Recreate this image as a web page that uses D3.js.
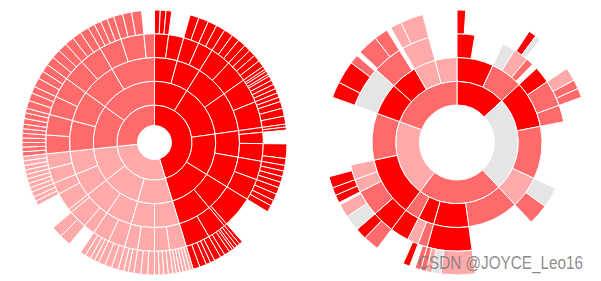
<!DOCTYPE html>
<html>
<head>
<meta charset="utf-8">
<script src="https://cdn.jsdelivr.net/npm/d3@7"></script>
<style>
  html, body { margin: 0; padding: 0; background: #fff; }
  svg { display: block; }
</style>
</head>
<body>
<svg id="chart" width="601" height="281"></svg>
<script>
// ---------- DATA ----------
// Colour keys
const palette = { R: "#ff0000", M: "#ff6b6b", L: "#ffaaaa", G: "#e5e5e5" };

// LEFT sunburst: nested arrays, numbers are leaf sizes (degrees); arrays are groups.
// Colour inherited from the top level group.
const leftGroups = ["R", "L", "M"];
const leftRed = [
  [ [ [2.5, 2.5, 2.5], 8.1 ], [ [4, 4.4], [4, 4] ] ],
  [ [ [4, 3.5, 3.5], [3, 3, 3, 3] ],
    [ [1.5, 1, 1.5, 1, 2, 2, 2, 2], [2, 2, 3, 3.5, 3.5] ] ],
  [ [ [1.3, 1.3], 6, [6.4, 3] ], [ [2.5, 2.5, 2.5, 2.5], [3, 3, 2.5, 3] ] ],
  [ [ 17, [1.5] ], [ [1.5, 1.5, 1, 1.5, 2.5, 2], [3, 2, 2, 3, 3] ] ]
];
const leftLight = [
  [ [ [1.5, 1.5, 1.5, 1.5, 1.5, 1.5], [2, 2, 2, 2] ], [ [3, 3, 3], [2.5, 2, 2.5] ] ],
  [ [ [3, 3, 3], [2, 2, 2.5, 2.5] ], [ 6, [5, 5], 2 ] ],
  [ [ 9.7, [2, 2, 2.3] ], [ [2, 2, 2, 2], [2, 2, 2, 2] ] ]
];
const leftMedium = [
  [ [ [2, 2, 2, 2, 2], [2, 2, 2.5, 2.5, 2] ], [ [3.5, 3.5, 3], [4, 3.5, 3.5] ] ],
  [ [ [4, 4, 4], [4, 4, 4] ], [ [3, 3, 3, 3], [4, 4, 4.4], 5.6 ] ]
];

// RIGHT sunburst: [colourKey, span (degrees), children?]; null colour = empty space.
const rightTop = [
  ["R", 47, [
    ["R", 25, [ ["R", 9.5, [ ["R", 3.8] ]] ]],
    ["M", 22, [ ["G", 7], ["L", 8, [ [null, 1], ["R", 3.5], ["G", 2.5] ]], ["M", 4] ]]
  ]],
  ["G", 90, [
    ["R", 32, [ ["R", 9], ["M", 14, [ ["L", 6], ["M", 4], ["M", 4] ]], ["M", 9] ]],
    ["M", 36],
    ["L", 22, [ ["G", 11], ["M", 11] ]]
  ]],
  ["M", 80, [
    ["M", 35],
    ["R", 24, [ ["R", 24, [ ["L", 15], ["G", 4], ["L", 2.5], ["M", 2.5] ]] ]],
    ["R", 11, [ ["M", 5, [ ["M", 2.5] ]], ["L", 6, [ ["R", 3] ]] ]],
    ["M", 10, [ ["R", 10] ]]
  ]],
  ["L", 73, [
    ["R", 41, [
      ["R", 12, [ ["M", 7], ["R", 5] ]],
      ["M", 14, [ ["G", 7], ["L", 6] ]],
      ["L", 7, [ ["R", 3.5], ["R", 3.5] ]],
      ["L", 8, [ ["R", 5] ]]
    ]],
    ["M", 32]
  ]],
  ["M", 70, [
    ["R", 22, [ ["G", 22, [ ["R", 7], ["R", 10], ["M", 4] ]] ]],
    ["R", 18, [ ["M", 16, [ [null, 1], ["M", 9], ["M", 6] ]] ]],
    ["L", 15, [ ["L", 15, [ ["L", 5], ["L", 10] ]] ]],
    ["L", 15]
  ]]
];

const watermark = "CSDN @JOYCE_Leo16";

// ---------- BUILD ----------
const svg = d3.select("#chart");
svg.append("rect").attr("width", 601).attr("height", 281).attr("fill", "#fff");

function leftNode(n) {
  return Array.isArray(n) ? { children: n.map(leftNode) } : { value: n };
}
const leftRootData = {
  children: [leftRed, leftLight, leftMedium].map((g, i) => ({ c: leftGroups[i], children: g.map(leftNode) }))
};

function rightNode([c, v, kids]) {
  if (!kids) return { c, value: v };
  const ch = kids.map(rightNode);
  const used = d3.sum(kids, k => k[1]);
  if (v - used > 1e-6) ch.push({ c: null, value: v - used });
  return { c, children: ch };
}
const rightRootData = { children: rightTop.map(rightNode) };

function draw(rootData, cx, cy, rScale, inheritColour) {
  const root = d3.hierarchy(rootData).sum(d => d.children ? 0 : d.value);
  d3.partition().size([2 * Math.PI, root.height + 1])(root);
  const arc = d3.arc()
    .startAngle(d => d.x0)
    .endAngle(d => d.x1)
    .innerRadius(d => rScale(d.depth - 1))
    .outerRadius(d => rScale(d.depth));
  const colourOf = d => {
    if (inheritColour) { let a = d; while (a.depth > 1) a = a.parent; return a.data.c; }
    return d.data.c;
  };
  const nodes = root.descendants().filter(d => d.depth > 0 && colourOf(d) && d.data.c !== null);
  svg.append("g")
    .attr("transform", `translate(${cx},${cy})`)
    .selectAll("path")
    .data(nodes)
    .join("path")
    .attr("d", arc)
    .attr("fill", d => palette[colourOf(d)])
    .attr("stroke", "#fff")
    .attr("stroke-width", 1);
}

const rLeft = d3.scaleLinear().domain([0, 1, 5]).range([17, 37.5, 132.5]);
const rRight = d3.scaleLinear().domain([0, 4]).range([37.5, 132.5]);

draw(leftRootData, 154.5, 142.5, rLeft, true);
draw(rightRootData, 457, 142.5, rRight, false);

svg.append("text")
  .attr("x", 418).attr("y", 269)
  .attr("font-family", "Liberation Sans, Arial, sans-serif")
  .attr("font-size", 18)
  .attr("textLength", 165)
  .attr("lengthAdjust", "spacingAndGlyphs")
  .attr("fill", "rgba(120,120,120,0.85)")
  .text(watermark);
</script>
</body>
</html>
